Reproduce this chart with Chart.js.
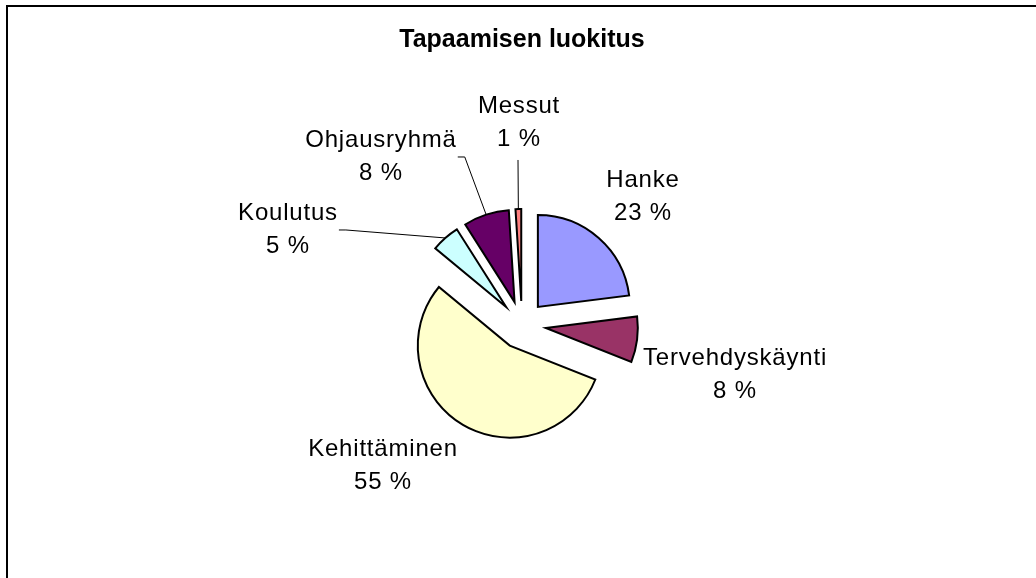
<!DOCTYPE html>
<html>
<head>
<meta charset="utf-8">
<script src="https://cdn.jsdelivr.net/npm/chart.js@4/dist/chart.umd.min.js"></script>
<style>
  html, body { margin: 0; padding: 0; background: #fff; overflow: hidden; }
  canvas { display: block; }
</style>
</head>
<body>
<canvas id="myChart" width="1036" height="660"></canvas>
<script>
// meeting categories and their shares (%)
const categories = ['Hanke', 'Tervehdyskäynti', 'Kehittäminen', 'Koulutus', 'Ohjausryhmä', 'Messut'];
const shares = [23, 8, 55, 5, 8, 1];
const sliceColors = ['#9999FF', '#993366', '#FFFFCC', '#CCFFFF', '#660066', '#FF8080'];

const FONT = "'Liberation Sans', Arial, sans-serif";
const explode = 24;

// label placement relative to pie centre: [dx, dy of first baseline, leader anchor]
const labelPlace = [
    [121, -138, null],
    [213, 40, null],
    [-139, 131, null],
    [-234, -105, 'right'],
    [-141, -178, 'right'],
    [-3, -212, 'bottom']
];

const framePlugin = {
    id: 'frame',
    beforeDraw(chart) {
        const ctx = chart.ctx;
        ctx.save();
        ctx.fillStyle = '#fff';
        ctx.fillRect(0, 0, chart.width, chart.height);
        ctx.strokeStyle = '#000';
        ctx.lineWidth = 2;
        ctx.strokeRect(7, 6, chart.width + 20, chart.height + 20);
        ctx.restore();
    }
};

// pull each slice out along its middle angle
const explodePlugin = {
    id: 'explode',
    beforeDatasetDraw(chart, args) {
        const ctx = chart.ctx;
        args.meta.data.forEach(arc => {
            const mid = (arc.startAngle + arc.endAngle) / 2;
            ctx.save();
            ctx.translate(Math.cos(mid) * explode, Math.sin(mid) * explode);
            arc.draw(ctx);
            ctx.restore();
        });
        return false;
    }
};

const labelPlugin = {
    id: 'sliceLabels',
    afterDatasetsDraw(chart) {
        const ctx = chart.ctx;
        const meta = chart.getDatasetMeta(0);
        const data = chart.data.datasets[0].data;
        const total = data.reduce((a, b) => a + b, 0);
        ctx.save();
        ctx.font = '24px ' + FONT;
        ctx.letterSpacing = '0.8px';
        ctx.fillStyle = '#000';
        ctx.textAlign = 'center';
        ctx.textBaseline = 'alphabetic';
        meta.data.forEach((arc, i) => {
            const [dx, dy, anchor] = labelPlace[i];
            const x = arc.x + dx;
            const y = arc.y + dy;
            const pct = Math.round(data[i] / total * 100) + ' %';
            const name = chart.data.labels[i];
            ctx.fillText(name, x, y);
            ctx.fillText(pct, x, y + 33);

            if (anchor) {
                const mid = (arc.startAngle + arc.endAngle) / 2;
                const r = arc.outerRadius + explode;
                const ex = arc.x + Math.cos(mid) * r;
                const ey = arc.y + Math.sin(mid) * r;
                ctx.beginPath();
                ctx.strokeStyle = '#000';
                ctx.lineWidth = 1;
                if (anchor === 'right') {
                    const w = Math.max(ctx.measureText(name).width, ctx.measureText(pct).width);
                    const sx = x + w / 2 + 1;
                    const sy = y + 10;
                    ctx.moveTo(sx, sy);
                    ctx.lineTo(sx + 7, sy);
                } else {
                    ctx.moveTo(x - 1, y + 47);
                }
                ctx.lineTo(ex, ey);
                ctx.stroke();
            }
        });
        ctx.restore();
    }
};

const ctx = document.getElementById('myChart');

new Chart(ctx, {
    type: 'pie',
    data: {
        labels: categories,
        datasets: [{
            data: shares,
            backgroundColor: sliceColors,
            borderColor: '#000',
            borderWidth: 2,
            borderJoinStyle: 'miter',
            radius: 92
        }]
    },
    options: {
        responsive: false,
        animation: false,
        events: [],
        layout: {
            padding: { left: 8, right: 0, top: 0, bottom: 64.8 }
        },
        plugins: {
            legend: { display: false },
            tooltip: { enabled: false },
            title: {
                display: true,
                text: 'Tapaamisen luokitus',
                color: '#000',
                font: { family: FONT, size: 25, weight: 'bold', lineHeight: 1.15 },
                padding: { top: 26, bottom: 0 }
            }
        }
    },
    plugins: [framePlugin, explodePlugin, labelPlugin]
});
</script>
</body>
</html>
